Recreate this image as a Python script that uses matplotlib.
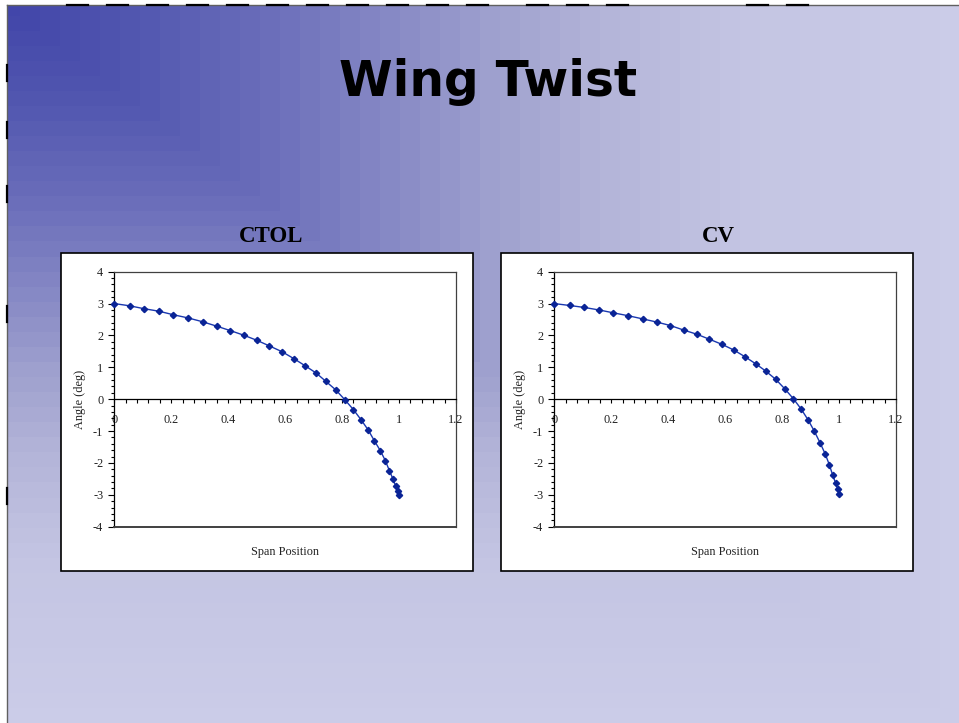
import numpy as np
import matplotlib
matplotlib.use("Agg")
import matplotlib.pyplot as plt
from matplotlib.patches import Rectangle
from matplotlib.ticker import MultipleLocator

# ---- data -------------------------------------------------------------
slide_title = "Wing Twist"
chart_titles = ["CTOL", "CV"]
x_label = "Span Position"
y_label = "Angle (deg)"

span = [0.000, 0.054, 0.104, 0.157, 0.207, 0.259, 0.310, 0.360, 0.408, 0.454,
        0.500, 0.545, 0.589, 0.631, 0.670, 0.709, 0.743, 0.778, 0.810, 0.840,
        0.867, 0.892, 0.913, 0.934, 0.952, 0.966, 0.978, 0.988, 0.995, 1.000]

twist_ctol = [3.00, 2.93, 2.84, 2.76, 2.65, 2.55, 2.43, 2.29, 2.15, 2.01,
              1.85, 1.67, 1.49, 1.27, 1.05, 0.82, 0.56, 0.29, -0.02, -0.33,
              -0.65, -0.97, -1.30, -1.61, -1.93, -2.24, -2.49, -2.72, -2.89, -2.99]

twist_cv = [3.00, 2.94, 2.88, 2.80, 2.71, 2.62, 2.52, 2.42, 2.31, 2.17,
            2.04, 1.88, 1.72, 1.54, 1.33, 1.10, 0.88, 0.62, 0.32, 0.01,
            -0.31, -0.66, -1.00, -1.38, -1.73, -2.06, -2.39, -2.63, -2.82, -2.96]

x_ticks = [0, 0.2, 0.4, 0.6, 0.8, 1.0, 1.2]
x_tick_labels = ["0", "0.2", "0.4", "0.6", "0.8", "1", "1.2"]
y_ticks = [-4, -3, -2, -1, 0, 1, 2, 3, 4]
y_tick_labels = ["-4", "-3", "-2", "-1", "0", "1", "2", "3", "4"]

# ---- figure ---------------------------------------------------------
W, H = 959, 723
DPI = 100
fig = plt.figure(figsize=(W / DPI, H / DPI), dpi=DPI, facecolor="white")

# Background layer in pixel coordinates
bg = fig.add_axes([0, 0, 1, 1])
bg.set_xlim(0, W)
bg.set_ylim(H, 0)
bg.axis("off")

# corner gradient: dark blue top-left fading to lavender
x0, y0 = 7, 5
gx = np.arange(x0, W) / W
gy = np.arange(y0, H) / H
t = np.maximum(gx[None, :], gy[:, None])
t = np.floor(t * 48) / 48
stops_t = [0.0, 0.13, 0.28, 0.50, 0.62, 0.76, 1.0]
stops_c = np.array([(66, 70, 170), (82, 87, 176), (109, 112, 187),
                    (158, 160, 206), (180, 181, 217), (196, 197, 227),
                    (204, 205, 233)]) / 255.0
img = np.stack([np.interp(t, stops_t, stops_c[:, k]) for k in range(3)], axis=-1)
bg.imshow(img, extent=(x0, W, H, y0), aspect="auto", interpolation="nearest", zorder=0)

# slide edges with the dashed marks
bg.plot([x0, x0], [y0, H], color="#606060", lw=1.0, zorder=1)
bg.plot([x0, W], [y0, y0], color="#606060", lw=1.0, zorder=1)
for xs in [67, 107, 147, 187, 227, 267, 307, 347, 387, 427, 467, 527, 567, 607, 747, 787]:
    bg.plot([xs, xs + 21], [y0, y0], color="black", lw=1.6, zorder=2)
for ys in [65, 122, 186, 306, 488]:
    bg.plot([x0, x0], [ys, ys + 16], color="black", lw=1.6, zorder=2)

# slide title
bg.text(488, 82, slide_title, ha="center", va="center", fontsize=35,
        fontweight="bold", family="DejaVu Sans", color="black")

# chart frames and titles
frames = [(61, 253, 412, 318), (501, 253, 412, 318)]
title_pos = [(271, 236), (718, 236)]
for (fx, fy, fw, fh), (tx, ty), ttl in zip(frames, title_pos, chart_titles):
    bg.add_patch(Rectangle((fx, fy), fw, fh, facecolor="white",
                           edgecolor="black", lw=1.2, zorder=3))
    bg.text(tx, ty, ttl, ha="center", va="center", fontsize=16.5,
            fontweight="bold", family="Liberation Serif", color="black", zorder=4)

# ---- plots ----------------------------------------------------------------
plot_boxes = [(114.3, 271.7, 341.7, 255.0), (554.3, 271.7, 341.7, 255.0)]
series = [twist_ctol, twist_cv]
serif = "Liberation Serif"

for (px, py, pw, ph), values in zip(plot_boxes, series):
    ax = fig.add_axes([px / W, 1 - (py + ph) / H, pw / W, ph / H])
    ax.set_facecolor("white")
    ax.set_xlim(0, 1.2)
    ax.set_ylim(-4, 4)

    ax.plot(span, values, color="#1a38b0", lw=1.0, marker="D", ms=3.2,
            mfc="#0a2496", mec="#0a2496", zorder=5, clip_on=False)

    for side in ["top", "right"]:
        ax.spines[side].set_color("#404040")
        ax.spines[side].set_linewidth(0.9)
    ax.spines["left"].set_color("black")
    ax.spines["left"].set_linewidth(0.9)
    ax.spines["bottom"].set_position(("data", 0))
    ax.spines["bottom"].set_color("black")
    ax.spines["bottom"].set_linewidth(0.9)
    ax.axhline(-4, color="#404040", lw=1.4, zorder=6, clip_on=False)

    ax.set_xticks(x_ticks)
    ax.set_xticklabels(x_tick_labels, family=serif, fontsize=8.8)
    ax.xaxis.set_minor_locator(MultipleLocator(0.04))
    ax.set_yticks(y_ticks)
    ax.set_yticklabels(y_tick_labels, family=serif, fontsize=8.8)
    ax.yaxis.set_minor_locator(MultipleLocator(0.2))

    ax.tick_params(axis="x", which="major", direction="out", length=3, width=0.8,
                   pad=7.5, colors="black", labelcolor="#222222")
    ax.tick_params(axis="x", which="minor", direction="out", length=3, width=0.8,
                   colors="black")
    ax.tick_params(axis="y", which="major", direction="out", length=4, width=0.8,
                   pad=4, colors="black", labelcolor="#222222")
    ax.tick_params(axis="y", which="minor", direction="out", length=2.5, width=0.8,
                   colors="black")

    ax.set_ylabel(y_label, family=serif, fontsize=8.8, color="#222222", labelpad=5)
    ax.text(0.5, -0.10, x_label, transform=ax.transAxes, ha="center", va="center",
            family=serif, fontsize=8.8, color="#222222")

fig.savefig("out.png", dpi=DPI, facecolor="white")
